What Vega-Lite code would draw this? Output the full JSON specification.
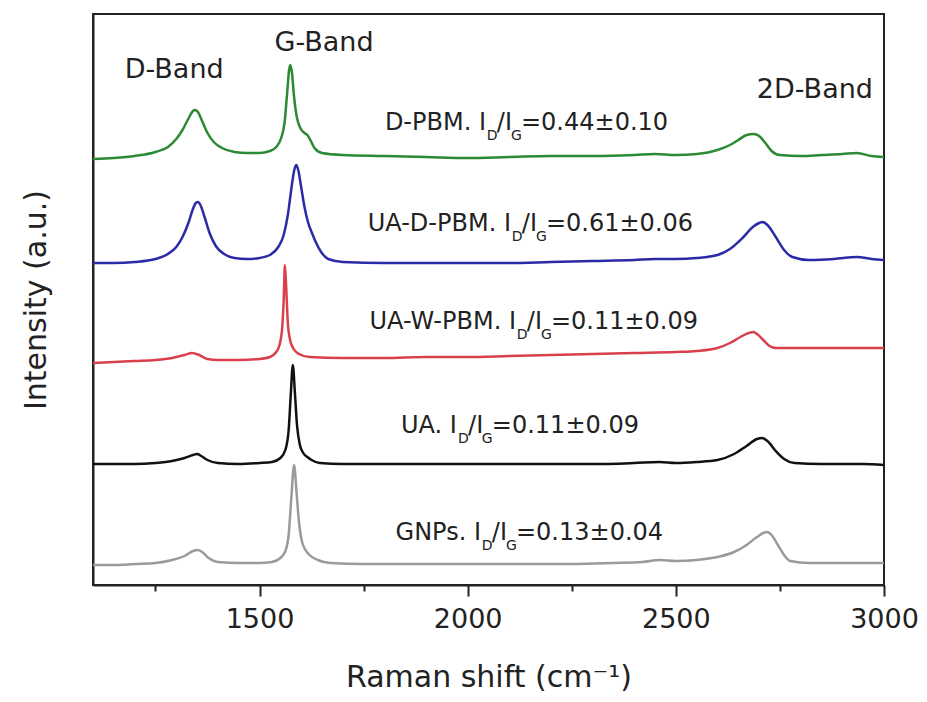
{
  "$schema": "https://vega.github.io/schema/vega-lite/v6.json",
  "autosize": {"type": "none"},
  "padding": {"left": 93, "top": 14, "right": 43, "bottom": 117},
  "width": 791,
  "height": 571,
  "background": "white",
  "config": {
    "view": {"stroke": "#222", "strokeWidth": 2},
    "font": "DejaVu Sans",
    "text": {"font": "DejaVu Sans", "color": "#222"}
  },
  "datasets": {
    "spectra": [
      {"s":"D-PBM","x":1100,"y":426},{"s":"D-PBM","x":1150,"y":427},{"s":"D-PBM","x":1200,"y":429},{"s":"D-PBM","x":1250,"y":433},{"s":"D-PBM","x":1280,"y":438},{"s":"D-PBM","x":1300,"y":446},{"s":"D-PBM","x":1315,"y":455},{"s":"D-PBM","x":1330,"y":467},{"s":"D-PBM","x":1340,"y":474},{"s":"D-PBM","x":1345,"y":475},{"s":"D-PBM","x":1352,"y":473},{"s":"D-PBM","x":1362,"y":464},{"s":"D-PBM","x":1375,"y":452},{"s":"D-PBM","x":1390,"y":443},{"s":"D-PBM","x":1410,"y":437},{"s":"D-PBM","x":1440,"y":433},{"s":"D-PBM","x":1470,"y":432},{"s":"D-PBM","x":1500,"y":432},{"s":"D-PBM","x":1525,"y":434},{"s":"D-PBM","x":1540,"y":438},{"s":"D-PBM","x":1552,"y":447},{"s":"D-PBM","x":1560,"y":462},{"s":"D-PBM","x":1566,"y":490},{"s":"D-PBM","x":1571,"y":515},{"s":"D-PBM","x":1574,"y":520},{"s":"D-PBM","x":1578,"y":512},{"s":"D-PBM","x":1583,"y":488},{"s":"D-PBM","x":1590,"y":467},{"s":"D-PBM","x":1598,"y":457},{"s":"D-PBM","x":1608,"y":452},{"s":"D-PBM","x":1615,"y":450},{"s":"D-PBM","x":1622,"y":445},{"s":"D-PBM","x":1632,"y":437},{"s":"D-PBM","x":1650,"y":432},{"s":"D-PBM","x":1700,"y":430},{"s":"D-PBM","x":1800,"y":429},{"s":"D-PBM","x":1900,"y":428},{"s":"D-PBM","x":2000,"y":427},{"s":"D-PBM","x":2100,"y":428},{"s":"D-PBM","x":2200,"y":429},{"s":"D-PBM","x":2300,"y":429},{"s":"D-PBM","x":2400,"y":430},{"s":"D-PBM","x":2450,"y":431},{"s":"D-PBM","x":2500,"y":430},{"s":"D-PBM","x":2550,"y":431},{"s":"D-PBM","x":2600,"y":435},{"s":"D-PBM","x":2630,"y":440},{"s":"D-PBM","x":2650,"y":445},{"s":"D-PBM","x":2670,"y":450},{"s":"D-PBM","x":2687,"y":451},{"s":"D-PBM","x":2700,"y":449},{"s":"D-PBM","x":2715,"y":442},{"s":"D-PBM","x":2730,"y":434},{"s":"D-PBM","x":2750,"y":430},{"s":"D-PBM","x":2800,"y":429},{"s":"D-PBM","x":2850,"y":430},{"s":"D-PBM","x":2900,"y":431},{"s":"D-PBM","x":2935,"y":432},{"s":"D-PBM","x":2970,"y":429},{"s":"D-PBM","x":3000,"y":428},

      {"s":"UA-D-PBM","x":1100,"y":322},{"s":"UA-D-PBM","x":1150,"y":322},{"s":"UA-D-PBM","x":1200,"y":323},{"s":"UA-D-PBM","x":1250,"y":326},{"s":"UA-D-PBM","x":1280,"y":331},{"s":"UA-D-PBM","x":1300,"y":338},{"s":"UA-D-PBM","x":1315,"y":348},{"s":"UA-D-PBM","x":1330,"y":363},{"s":"UA-D-PBM","x":1340,"y":376},{"s":"UA-D-PBM","x":1347,"y":382},{"s":"UA-D-PBM","x":1352,"y":383},{"s":"UA-D-PBM","x":1358,"y":380},{"s":"UA-D-PBM","x":1368,"y":368},{"s":"UA-D-PBM","x":1380,"y":352},{"s":"UA-D-PBM","x":1395,"y":339},{"s":"UA-D-PBM","x":1415,"y":331},{"s":"UA-D-PBM","x":1440,"y":327},{"s":"UA-D-PBM","x":1470,"y":326},{"s":"UA-D-PBM","x":1500,"y":327},{"s":"UA-D-PBM","x":1525,"y":330},{"s":"UA-D-PBM","x":1545,"y":338},{"s":"UA-D-PBM","x":1558,"y":350},{"s":"UA-D-PBM","x":1568,"y":370},{"s":"UA-D-PBM","x":1577,"y":398},{"s":"UA-D-PBM","x":1583,"y":414},{"s":"UA-D-PBM","x":1588,"y":420},{"s":"UA-D-PBM","x":1593,"y":415},{"s":"UA-D-PBM","x":1600,"y":398},{"s":"UA-D-PBM","x":1608,"y":378},{"s":"UA-D-PBM","x":1617,"y":362},{"s":"UA-D-PBM","x":1626,"y":352},{"s":"UA-D-PBM","x":1635,"y":343},{"s":"UA-D-PBM","x":1648,"y":333},{"s":"UA-D-PBM","x":1665,"y":326},{"s":"UA-D-PBM","x":1700,"y":323},{"s":"UA-D-PBM","x":1800,"y":322},{"s":"UA-D-PBM","x":1900,"y":322},{"s":"UA-D-PBM","x":2000,"y":322},{"s":"UA-D-PBM","x":2100,"y":322},{"s":"UA-D-PBM","x":2200,"y":323},{"s":"UA-D-PBM","x":2300,"y":324},{"s":"UA-D-PBM","x":2400,"y":325},{"s":"UA-D-PBM","x":2450,"y":326},{"s":"UA-D-PBM","x":2500,"y":326},{"s":"UA-D-PBM","x":2550,"y":327},{"s":"UA-D-PBM","x":2600,"y":330},{"s":"UA-D-PBM","x":2630,"y":336},{"s":"UA-D-PBM","x":2660,"y":347},{"s":"UA-D-PBM","x":2685,"y":358},{"s":"UA-D-PBM","x":2700,"y":362},{"s":"UA-D-PBM","x":2708,"y":363},{"s":"UA-D-PBM","x":2720,"y":360},{"s":"UA-D-PBM","x":2740,"y":348},{"s":"UA-D-PBM","x":2760,"y":335},{"s":"UA-D-PBM","x":2780,"y":328},{"s":"UA-D-PBM","x":2820,"y":325},{"s":"UA-D-PBM","x":2880,"y":326},{"s":"UA-D-PBM","x":2935,"y":328},{"s":"UA-D-PBM","x":2970,"y":326},{"s":"UA-D-PBM","x":3000,"y":325},

      {"s":"UA-W-PBM","x":1100,"y":222},{"s":"UA-W-PBM","x":1150,"y":223},{"s":"UA-W-PBM","x":1200,"y":224},{"s":"UA-W-PBM","x":1250,"y":225},{"s":"UA-W-PBM","x":1290,"y":227},{"s":"UA-W-PBM","x":1320,"y":230},{"s":"UA-W-PBM","x":1338,"y":232},{"s":"UA-W-PBM","x":1355,"y":230},{"s":"UA-W-PBM","x":1375,"y":226},{"s":"UA-W-PBM","x":1400,"y":225},{"s":"UA-W-PBM","x":1450,"y":225},{"s":"UA-W-PBM","x":1500,"y":226},{"s":"UA-W-PBM","x":1525,"y":228},{"s":"UA-W-PBM","x":1540,"y":233},{"s":"UA-W-PBM","x":1548,"y":240},{"s":"UA-W-PBM","x":1554,"y":255},{"s":"UA-W-PBM","x":1558,"y":285},{"s":"UA-W-PBM","x":1561,"y":320},{"s":"UA-W-PBM","x":1564,"y":298},{"s":"UA-W-PBM","x":1568,"y":262},{"s":"UA-W-PBM","x":1574,"y":244},{"s":"UA-W-PBM","x":1582,"y":236},{"s":"UA-W-PBM","x":1595,"y":231},{"s":"UA-W-PBM","x":1620,"y":228},{"s":"UA-W-PBM","x":1700,"y":227},{"s":"UA-W-PBM","x":1800,"y":227},{"s":"UA-W-PBM","x":1900,"y":228},{"s":"UA-W-PBM","x":2000,"y":228},{"s":"UA-W-PBM","x":2100,"y":229},{"s":"UA-W-PBM","x":2200,"y":230},{"s":"UA-W-PBM","x":2300,"y":231},{"s":"UA-W-PBM","x":2400,"y":232},{"s":"UA-W-PBM","x":2500,"y":233},{"s":"UA-W-PBM","x":2550,"y":234},{"s":"UA-W-PBM","x":2600,"y":237},{"s":"UA-W-PBM","x":2630,"y":242},{"s":"UA-W-PBM","x":2655,"y":248},{"s":"UA-W-PBM","x":2675,"y":252},{"s":"UA-W-PBM","x":2686,"y":253},{"s":"UA-W-PBM","x":2695,"y":251},{"s":"UA-W-PBM","x":2710,"y":245},{"s":"UA-W-PBM","x":2725,"y":239},{"s":"UA-W-PBM","x":2740,"y":237},{"s":"UA-W-PBM","x":2800,"y":237},{"s":"UA-W-PBM","x":2900,"y":237},{"s":"UA-W-PBM","x":3000,"y":237},

      {"s":"UA","x":1100,"y":121},{"s":"UA","x":1150,"y":121},{"s":"UA","x":1200,"y":121},{"s":"UA","x":1250,"y":122},{"s":"UA","x":1290,"y":124},{"s":"UA","x":1320,"y":127},{"s":"UA","x":1340,"y":130},{"s":"UA","x":1350,"y":131},{"s":"UA","x":1360,"y":129},{"s":"UA","x":1375,"y":125},{"s":"UA","x":1400,"y":122},{"s":"UA","x":1450,"y":121},{"s":"UA","x":1500,"y":122},{"s":"UA","x":1530,"y":123},{"s":"UA","x":1550,"y":127},{"s":"UA","x":1562,"y":135},{"s":"UA","x":1570,"y":155},{"s":"UA","x":1575,"y":190},{"s":"UA","x":1580,"y":220},{"s":"UA","x":1585,"y":192},{"s":"UA","x":1590,"y":160},{"s":"UA","x":1597,"y":140},{"s":"UA","x":1605,"y":132},{"s":"UA","x":1615,"y":128},{"s":"UA","x":1625,"y":125},{"s":"UA","x":1645,"y":122},{"s":"UA","x":1700,"y":121},{"s":"UA","x":1800,"y":121},{"s":"UA","x":1900,"y":121},{"s":"UA","x":2000,"y":121},{"s":"UA","x":2100,"y":121},{"s":"UA","x":2200,"y":121},{"s":"UA","x":2300,"y":121},{"s":"UA","x":2400,"y":122},{"s":"UA","x":2460,"y":123},{"s":"UA","x":2500,"y":122},{"s":"UA","x":2550,"y":123},{"s":"UA","x":2600,"y":125},{"s":"UA","x":2640,"y":131},{"s":"UA","x":2670,"y":139},{"s":"UA","x":2695,"y":146},{"s":"UA","x":2707,"y":147},{"s":"UA","x":2720,"y":144},{"s":"UA","x":2740,"y":134},{"s":"UA","x":2760,"y":126},{"s":"UA","x":2785,"y":122},{"s":"UA","x":2850,"y":121},{"s":"UA","x":2950,"y":121},{"s":"UA","x":3000,"y":120},

      {"s":"GNPs","x":1100,"y":20},{"s":"GNPs","x":1150,"y":20},{"s":"GNPs","x":1200,"y":21},{"s":"GNPs","x":1250,"y":22},{"s":"GNPs","x":1290,"y":25},{"s":"GNPs","x":1320,"y":29},{"s":"GNPs","x":1340,"y":34},{"s":"GNPs","x":1352,"y":35},{"s":"GNPs","x":1362,"y":33},{"s":"GNPs","x":1378,"y":27},{"s":"GNPs","x":1400,"y":23},{"s":"GNPs","x":1450,"y":22},{"s":"GNPs","x":1500,"y":22},{"s":"GNPs","x":1530,"y":23},{"s":"GNPs","x":1550,"y":27},{"s":"GNPs","x":1562,"y":34},{"s":"GNPs","x":1570,"y":50},{"s":"GNPs","x":1576,"y":85},{"s":"GNPs","x":1583,"y":120},{"s":"GNPs","x":1589,"y":92},{"s":"GNPs","x":1595,"y":62},{"s":"GNPs","x":1601,"y":45},{"s":"GNPs","x":1609,"y":36},{"s":"GNPs","x":1620,"y":30},{"s":"GNPs","x":1640,"y":25},{"s":"GNPs","x":1670,"y":22},{"s":"GNPs","x":1750,"y":21},{"s":"GNPs","x":1850,"y":21},{"s":"GNPs","x":1950,"y":21},{"s":"GNPs","x":2050,"y":21},{"s":"GNPs","x":2150,"y":21},{"s":"GNPs","x":2250,"y":21},{"s":"GNPs","x":2350,"y":22},{"s":"GNPs","x":2420,"y":23},{"s":"GNPs","x":2462,"y":25},{"s":"GNPs","x":2500,"y":24},{"s":"GNPs","x":2550,"y":25},{"s":"GNPs","x":2600,"y":28},{"s":"GNPs","x":2640,"y":33},{"s":"GNPs","x":2670,"y":40},{"s":"GNPs","x":2695,"y":48},{"s":"GNPs","x":2710,"y":52},{"s":"GNPs","x":2719,"y":53},{"s":"GNPs","x":2730,"y":50},{"s":"GNPs","x":2745,"y":40},{"s":"GNPs","x":2760,"y":30},{"s":"GNPs","x":2775,"y":24},{"s":"GNPs","x":2820,"y":22},{"s":"GNPs","x":2900,"y":22},{"s":"GNPs","x":3000,"y":22}
    ],
    "labels": [
      {"part":"band","x":1295,"y":515,"text":"D-Band"},
      {"part":"band","x":1655,"y":542,"text":"G-Band"},
      {"part":"band","x":2834,"y":495,"text":"2D-Band"},
      {"part":"pre","x":2044,"y":462,"text":"D-PBM. I"},
      {"part":"sub","x":2046,"y":462,"text":"D"},
      {"part":"rest","x":2070,"y":462,"text":"/I"},
      {"part":"sub","x":2104,"y":462,"text":"G"},
      {"part":"rest","x":2128,"y":462,"text":"=0.44±0.10"},
      {"part":"pre","x":2104,"y":361,"text":"UA-D-PBM. I"},
      {"part":"sub","x":2106,"y":361,"text":"D"},
      {"part":"rest","x":2130,"y":361,"text":"/I"},
      {"part":"sub","x":2164,"y":361,"text":"G"},
      {"part":"rest","x":2188,"y":361,"text":"=0.61±0.06"},
      {"part":"pre","x":2116,"y":263,"text":"UA-W-PBM. I"},
      {"part":"sub","x":2118,"y":263,"text":"D"},
      {"part":"rest","x":2142,"y":263,"text":"/I"},
      {"part":"sub","x":2176,"y":263,"text":"G"},
      {"part":"rest","x":2200,"y":263,"text":"=0.11±0.09"},
      {"part":"pre","x":1974,"y":159,"text":"UA. I"},
      {"part":"sub","x":1977,"y":159,"text":"D"},
      {"part":"rest","x":2001,"y":159,"text":"/I"},
      {"part":"sub","x":2034,"y":159,"text":"G"},
      {"part":"rest","x":2058,"y":159,"text":"=0.11±0.09"},
      {"part":"pre","x":2032,"y":52,"text":"GNPs. I"},
      {"part":"sub","x":2034,"y":52,"text":"D"},
      {"part":"rest","x":2058,"y":52,"text":"/I"},
      {"part":"sub","x":2092,"y":52,"text":"G"},
      {"part":"rest","x":2116,"y":52,"text":"=0.13±0.04"}
    ]
  },
  "encoding": {
    "x": {
      "field": "x", "type": "quantitative",
      "scale": {"domain": [1100, 3000], "nice": false, "zero": false},
      "axis": {
        "title": "Raman shift (cm⁻¹)",
        "values": [1250, 1500, 1750, 2000, 2250, 2500, 2750, 3000],
        "labelExpr": "datum.value % 500 === 0 ? datum.label : ''",
        "format": "d",
        "grid": false,
        "domainColor": "#222", "domainWidth": 2,
        "tickColor": "#222", "tickWidth": 2,
        "tickSize": {"condition": {"test": "datum.value % 500 === 0", "value": 11}, "value": 6},
        "labelFont": "DejaVu Sans", "labelFontSize": 27, "labelColor": "#222", "labelPadding": 10,
        "labelFlush": false, "labelOverlap": false,
        "titleFont": "DejaVu Sans", "titleFontSize": 30, "titleFontWeight": "normal", "titleColor": "#222", "titlePadding": 30
      }
    },
    "y": {
      "field": "y", "type": "quantitative",
      "scale": {"domain": [0, 571], "nice": false},
      "axis": {
        "title": "Intensity (a.u.)",
        "ticks": false, "labels": false, "grid": false,
        "domainColor": "#222", "domainWidth": 2,
        "titleFont": "DejaVu Sans", "titleFontSize": 30, "titleFontWeight": "normal", "titleColor": "#222", "titlePadding": 42
      }
    }
  },
  "layer": [
    {
      "data": {"name": "spectra"},
      "mark": {"type": "line", "interpolate": "monotone", "strokeWidth": 2.5},
      "encoding": {
        "color": {
          "field": "s", "type": "nominal", "legend": null,
          "scale": {"domain": ["D-PBM", "UA-D-PBM", "UA-W-PBM", "UA", "GNPs"],
                    "range": ["#2d8a34", "#2b2ba8", "#d9404a", "#111111", "#9a9a9a"]}
        }
      }
    },
    {
      "data": {"name": "labels"},
      "transform": [{"filter": "datum.part === 'band'"}],
      "mark": {"type": "text", "fontSize": 27, "align": "center", "baseline": "middle"},
      "encoding": {"text": {"field": "text"}}
    },
    {
      "data": {"name": "labels"},
      "transform": [{"filter": "datum.part === 'pre'"}],
      "mark": {"type": "text", "fontSize": 24, "align": "right", "baseline": "middle"},
      "encoding": {"text": {"field": "text"}}
    },
    {
      "data": {"name": "labels"},
      "transform": [{"filter": "datum.part === 'rest'"}],
      "mark": {"type": "text", "fontSize": 24, "align": "left", "baseline": "middle"},
      "encoding": {"text": {"field": "text"}}
    },
    {
      "data": {"name": "labels"},
      "transform": [{"filter": "datum.part === 'sub'"}],
      "mark": {"type": "text", "fontSize": 14, "align": "left", "baseline": "middle", "dy": 13},
      "encoding": {"text": {"field": "text"}}
    }
  ]
}
